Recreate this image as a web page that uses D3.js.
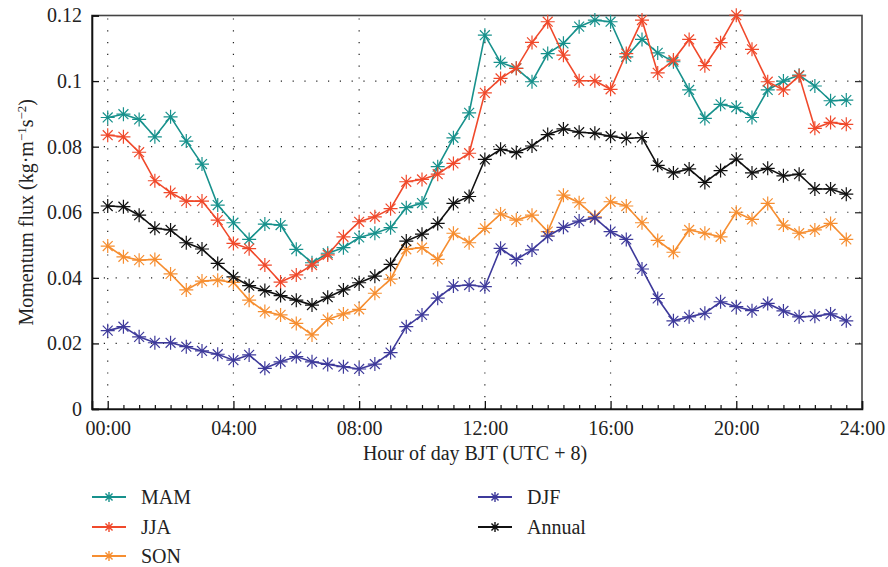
<!DOCTYPE html>
<html>
<head>
<meta charset="utf-8">
<script src="https://cdn.jsdelivr.net/npm/d3@7"></script>
<style>
  html, body { margin: 0; padding: 0; background: #fff; }
  svg { display: block; }
</style>
</head>
<body>
<svg id="chart" width="888" height="567"></svg>
<script>
// Half-hourly diurnal cycle of momentum flux, BJT
const hours = d3.range(0, 24, 0.5);

const mam = [0.0889, 0.0899, 0.0883, 0.0830, 0.0891, 0.0817, 0.0747, 0.0622,
  0.0568, 0.0517, 0.0564, 0.0561, 0.0487, 0.0446, 0.0475, 0.0492,
  0.0523, 0.0536, 0.0553, 0.0614, 0.0628, 0.0739, 0.0827, 0.0903,
  0.1140, 0.1057, 0.1039, 0.0998, 0.1084, 0.1115, 0.1166, 0.1186,
  0.1181, 0.1074, 0.1127, 0.1086, 0.1059, 0.0973, 0.0886, 0.0929,
  0.0920, 0.0889, 0.0973, 0.1000, 0.1018, 0.0985, 0.0940, 0.0942];

const jja = [0.0835, 0.0830, 0.0783, 0.0696, 0.0660, 0.0634, 0.0634, 0.0576,
  0.0505, 0.0489, 0.0439, 0.0387, 0.0409, 0.0439, 0.0470, 0.0525,
  0.0571, 0.0586, 0.0611, 0.0693, 0.0700, 0.0716, 0.0749, 0.0780,
  0.0964, 0.1008, 0.1039, 0.1118, 0.1181, 0.1079, 0.1001, 0.1001,
  0.0975, 0.1084, 0.1186, 0.1025, 0.1064, 0.1127, 0.1047, 0.1117,
  0.1201, 0.1097, 0.0998, 0.0973, 0.1016, 0.0856, 0.0874, 0.0868];

const son = [0.0497, 0.0464, 0.0454, 0.0456, 0.0412, 0.0363, 0.0390, 0.0393,
  0.0386, 0.0332, 0.0297, 0.0287, 0.0261, 0.0226, 0.0273, 0.0290,
  0.0304, 0.0353, 0.0396, 0.0487, 0.0492, 0.0456, 0.0536, 0.0507,
  0.0551, 0.0595, 0.0576, 0.0591, 0.0541, 0.0652, 0.0629, 0.0586,
  0.0632, 0.0619, 0.0568, 0.0514, 0.0478, 0.0546, 0.0536, 0.0525,
  0.0600, 0.0578, 0.0627, 0.0561, 0.0536, 0.0546, 0.0566, 0.0517];

const djf = [0.0239, 0.0251, 0.0220, 0.0202, 0.0202, 0.0190, 0.0177, 0.0167,
  0.0149, 0.0165, 0.0124, 0.0144, 0.0160, 0.0144, 0.0136, 0.0129,
  0.0122, 0.0137, 0.0172, 0.0251, 0.0287, 0.0338, 0.0375, 0.0378,
  0.0373, 0.0490, 0.0456, 0.0485, 0.0527, 0.0554, 0.0573, 0.0583,
  0.0541, 0.0517, 0.0427, 0.0337, 0.0269, 0.0281, 0.0292, 0.0327,
  0.0312, 0.0300, 0.0322, 0.0299, 0.0281, 0.0283, 0.0290, 0.0269];

const annual = [0.0619, 0.0617, 0.0591, 0.0551, 0.0546, 0.0507, 0.0488, 0.0444,
  0.0403, 0.0376, 0.0361, 0.0346, 0.0332, 0.0317, 0.0341, 0.0363,
  0.0385, 0.0405, 0.0441, 0.0512, 0.0533, 0.0566, 0.0627, 0.0648,
  0.0761, 0.0792, 0.0782, 0.0802, 0.0837, 0.0854, 0.0844, 0.0841,
  0.0832, 0.0825, 0.0828, 0.0743, 0.0720, 0.0732, 0.0691, 0.0727,
  0.0762, 0.0720, 0.0734, 0.0711, 0.0716, 0.0671, 0.0671, 0.0655];

const seriesNames = ["MAM", "JJA", "SON", "DJF", "Annual"];
const seriesColors = ["#17918c", "#f0492b", "#f68e31", "#3e3a9b", "#111111"];
const seriesValues = [mam, jja, son, djf, annual];

const yTicks = [0, 0.02, 0.04, 0.06, 0.08, 0.1, 0.12];
const yTickLabels = ["0", "0.02", "0.04", "0.06", "0.08", "0.1", "0.12"];
const xTicks = [0, 4, 8, 12, 16, 20, 24];
const xTickLabels = ["00:00", "04:00", "08:00", "12:00", "16:00", "20:00", "24:00"];

const FONT = "Liberation Serif";
const svg = d3.select("#chart");
const plotL = 92, plotR = 862, plotT = 15.5, plotB = 409;

const x = d3.scaleLinear().domain([-0.5, 24]).range([plotL, plotR]);
const y = d3.scaleLinear().domain([0, 0.12]).range([plotB, plotT]);

// dotted grid
const grid = svg.append("g").attr("stroke", "#222").attr("stroke-width", 1.2)
  .attr("stroke-dasharray", "1.2,10.6");
grid.selectAll("line.h").data(yTicks.filter(v => v > 0 && v < 0.12)).join("line")
  .attr("class", "h")
  .attr("x1", plotL).attr("x2", plotR)
  .attr("y1", d => y(d)).attr("y2", d => y(d));
grid.selectAll("line.v").data(xTicks.filter(v => v < 24)).join("line")
  .attr("class", "v")
  .attr("x1", d => x(d)).attr("x2", d => x(d))
  .attr("y1", plotB).attr("y2", plotT);

// frame
svg.append("rect").attr("x", plotL).attr("y", plotT)
  .attr("width", plotR - plotL).attr("height", plotB - plotT)
  .attr("fill", "none").attr("stroke", "#444").attr("stroke-width", 1.6);

// bottom axis with inward ticks
const xAxis = d3.axisBottom(x).tickValues(xTicks).tickSize(-8).tickFormat((d, i) => xTickLabels[i]);
const gx = svg.append("g").attr("transform", `translate(0,${plotB})`).call(xAxis)
  .attr("font-family", FONT).attr("font-size", 20);
gx.select(".domain").attr("stroke", "#111").attr("stroke-width", 1.6);
gx.selectAll(".tick line").attr("stroke", "#111").attr("stroke-width", 1.3);
gx.selectAll(".tick text").attr("y", 10).attr("dy", "0.8em").attr("fill", "#222");
const minor = hours.concat([24]).filter(h => !xTicks.includes(h));
const xMinor = d3.axisBottom(x).tickValues(minor).tickSize(-4).tickFormat("");
const gxm = svg.append("g").attr("transform", `translate(0,${plotB})`).call(xMinor);
gxm.select(".domain").remove();
gxm.selectAll(".tick line").attr("stroke", "#111").attr("stroke-width", 1.2);

// left axis
const yAxis = d3.axisLeft(y).tickValues(yTicks).tickSize(-7)
  .tickFormat((d, i) => yTickLabels[i]);
const gy = svg.append("g").attr("transform", `translate(${plotL},0)`).call(yAxis)
  .attr("font-family", FONT).attr("font-size", 20);
gy.select(".domain").attr("stroke", "#111").attr("stroke-width", 1.6);
gy.selectAll(".tick line").attr("stroke", "#111").attr("stroke-width", 1.3);
gy.selectAll(".tick text").attr("x", -10).attr("fill", "#222");

// right axis ticks
const gyr = svg.append("g").attr("transform", `translate(${plotR},0)`)
  .call(d3.axisRight(y).tickValues(yTicks.filter(v => v > 0 && v < 0.12)).tickSize(-7).tickFormat(""));
gyr.select(".domain").remove();
gyr.selectAll(".tick line").attr("stroke", "#333").attr("stroke-width", 1.3);

// axis titles
svg.append("text").attr("x", (plotL + plotR) / 2 - 2).attr("y", 460)
  .attr("text-anchor", "middle").attr("font-size", 20)
  .attr("font-family", FONT).attr("fill", "#222")
  .text("Hour of day BJT (UTC + 8)");

const yl = svg.append("text")
  .attr("transform", `translate(33,${(plotT + plotB) / 2}) rotate(-90)`)
  .attr("text-anchor", "middle").attr("font-size", 20)
  .attr("font-family", FONT).attr("fill", "#222");
yl.append("tspan").text("Momentum flux (kg·m");
yl.append("tspan").attr("font-size", 13).attr("baseline-shift", "super").text("−1");
yl.append("tspan").text("s");
yl.append("tspan").attr("font-size", 13).attr("baseline-shift", "super").text("−2");
yl.append("tspan").text(")");

// asterisk marker: + and x overlaid
function asterisk(r) {
  const d = r * Math.SQRT1_2;
  return `M${-r},0L${r},0M0,${-r}L0,${r}M${-d},${-d}L${d},${d}M${-d},${d}L${d},${-d}`;
}

const line = d3.line().x(d => x(d[0])).y(d => y(d[1]));
const plot = svg.append("g");
seriesValues.forEach((vals, i) => {
  const pts = hours.map((h, j) => [h, vals[j]]);
  const g = plot.append("g");
  g.append("path").datum(pts).attr("d", line)
    .attr("fill", "none").attr("stroke", seriesColors[i]).attr("stroke-width", 1.6);
  g.selectAll("path.m").data(pts).join("path")
    .attr("class", "m")
    .attr("transform", d => `translate(${x(d[0])},${y(d[1])})`)
    .attr("d", asterisk(7)).attr("fill", "none")
    .attr("stroke", seriesColors[i]).attr("stroke-width", 1.2);
});

// legend
const legendPos = [[92, 497], [92, 527], [92, 556], [478, 497], [478, 527]];
seriesNames.forEach((name, i) => {
  const [lx, ly] = legendPos[i];
  const g = svg.append("g").attr("transform", `translate(${lx},${ly})`);
  g.append("line").attr("x1", 0).attr("x2", 34).attr("y1", 0).attr("y2", 0)
    .attr("stroke", seriesColors[i]).attr("stroke-width", 1.8);
  g.append("path").attr("transform", "translate(17,0)").attr("d", asterisk(5))
    .attr("fill", "none").attr("stroke", seriesColors[i]).attr("stroke-width", 1.4);
  g.append("text").attr("x", 49).attr("y", 0).attr("dy", "0.35em")
    .attr("font-size", 20).attr("font-family", FONT).attr("fill", "#222").text(name);
});
</script>
</body>
</html>
